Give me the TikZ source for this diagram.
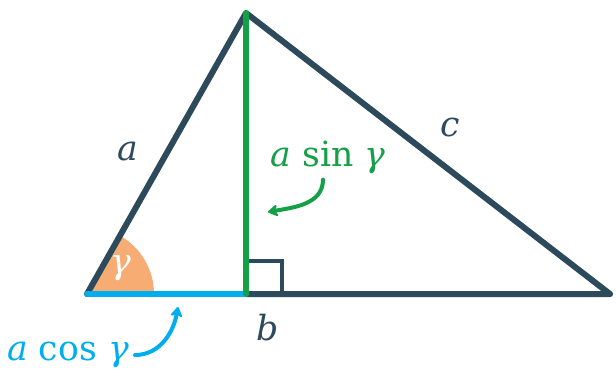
\documentclass[tikz,border=0pt]{standalone}
\usepackage{amsmath,amssymb}
\usepackage{fontspec}
\usepackage{tikz}
\usetikzlibrary{arrows.meta,positioning,calc}
\usepackage{xcolor}
\newfontfamily\lblfont{DejaVu Serif}
\definecolor{ink}{RGB}{45,74,92}
\definecolor{sideG}{RGB}{20,160,70}
\definecolor{sideB}{RGB}{0,174,239}
\definecolor{angO}{RGB}{246,172,114}
\tikzset{
  edge/.style={draw=ink,line width=4.5pt,line join=round,line cap=round},
  hgt/.style={draw=sideG,line width=4.2pt,line cap=round},
  proj/.style={draw=sideB,line width=4.2pt,line cap=round},
  lbl/.style={inner sep=0pt,font=\lblfont\fontsize{26}{30}\selectfont},
  pnt/.style={-{Stealth[length=9pt,width=11pt,round]},line width=3pt,line cap=round},
}
\newcommand{\vr}[1]{\textit{#1}}

\begin{document}
\begin{tikzpicture}[x=0.75pt,y=-0.75pt]
\useasboundingbox (0,0) rectangle (616,378);
% corners of the triangle and foot of the height
\coordinate (A) at (87,294);
\coordinate (B) at (246,13);
\coordinate (C) at (610,294);
\coordinate (H) at (246,294);
% angle at A
\fill[angO] (A) -- ++(67,0) arc[start angle=0,end angle=-60.5,radius=67] -- cycle;
% right angle mark
\draw[draw=ink,line width=3.4pt] ($(H)+(0,-33)$) -- ++(36,0) -- ++(0,33);
% sides
\draw[edge] (A) -- (B) -- (C) -- (H);
\draw[proj] (A) -- (H);
\draw[hgt] (H) -- (B);
% labels
\node[lbl,text=ink] (la) at (128,152) {\vr{a}};
\node[lbl,text=ink] (lc) at (450,128) {\vr{c}};
\node[lbl,text=ink] (lb) at (268,328) {\vr{b}};
\node[lbl,text=white] (lg) at (121,268) {\vr{γ}};
\node[lbl,text=sideG] (ls) at (328,157) {\vr{a} sin \vr{γ}};
\node[lbl,text=sideB] (lco) at (68,355) {\vr{a} cos \vr{γ}};
% pointers
\coordinate (ps) at (268,212);
\coordinate (pc) at (178,307);
\draw[pnt,sideG] ($(ls.south)+(-5,6)$) to[out=-90,in=10] (ps);
\draw[pnt,sideB] ($(lco.east)+(6,0)$) to[out=0,in=-100] (pc);
\end{tikzpicture}
\end{document}
